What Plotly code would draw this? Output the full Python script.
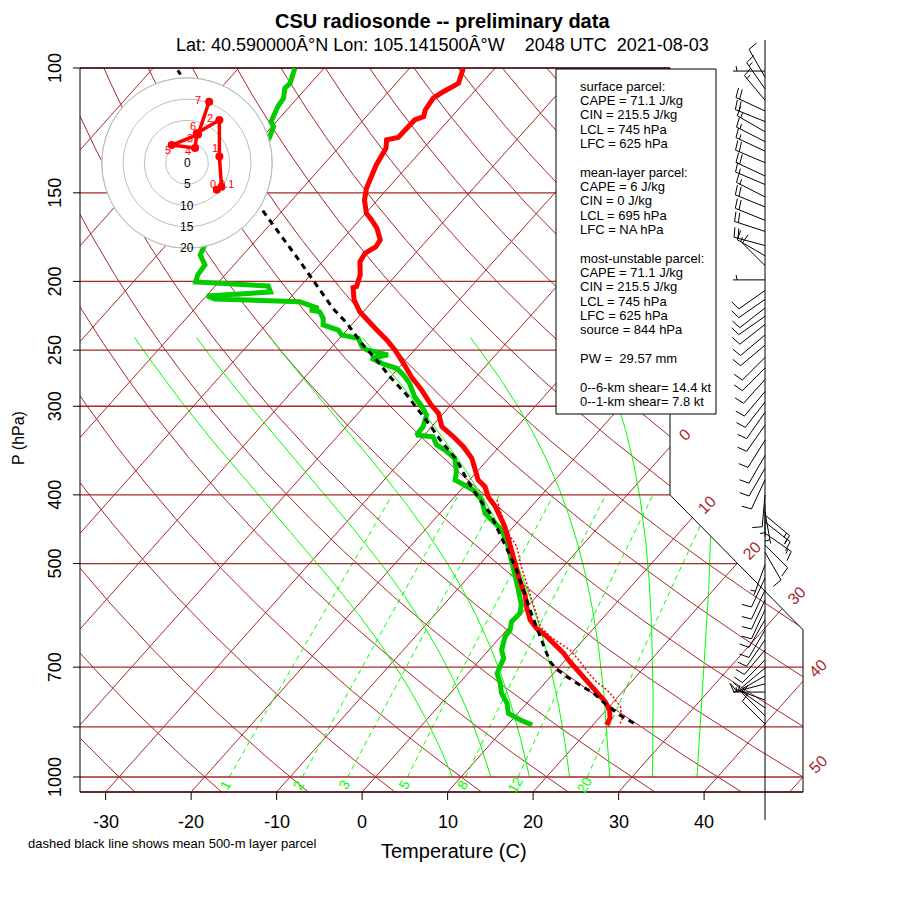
import numpy as np
import plotly.graph_objects as go

# ---- sounding: pressure (hPa), temperature (C) ----
pres_t = [100.1, 105.1, 108.0, 110.3, 114.6, 117.1, 118.4, 123.0, 125.3, 126.3,
          129.8, 137.0, 144.7, 147.8, 153.6, 160.3, 163.8, 168.3, 174.8, 178.7,
          182.5, 187.6, 195.8, 203.4, 204.1, 212.4, 220.7, 226.7, 234.2, 241.9,
          249.9, 262.4, 272.5, 284.6, 298.8, 306.9, 320.6, 331.2, 342.1, 355.2,
          371.0, 381.1, 389.5, 402.3, 415.6, 431.6, 443.6, 460.6, 481.1, 499.5,
          527.5, 553.8, 578.2, 600.5, 617.0, 634.0, 651.4, 669.2, 687.7, 706.5,
          725.8, 745.9, 766.3, 783.1, 804.5, 826.5, 844.7]
temp = [-63.7, -62.7, -63.6, -64.1, -63.8, -63.3, -64.0, -64.1, -64.1, -65.2,
        -64.4, -63.8, -62.8, -62.5, -61.5, -59.9, -58.6, -57.1, -55.5, -55.3,
        -55.9, -55.6, -54.2, -53.4, -53.7, -52.3, -50.4, -48.7, -46.5, -44.3,
        -42.3, -39.6, -37.6, -35.0, -32.3, -30.6, -28.8, -26.4, -24.2, -22.0,
        -20.2, -19.0, -17.5, -16.1, -14.2, -12.4, -11.0, -9.4, -7.6, -6.0,
        -3.7, -1.5, 0.1, 1.7, 3.3, 5.4, 7.2, 9.1, 10.7, 12.4,
        14.2, 15.9, 17.5, 19.0, 20.4, 21.3, 21.6]

pres_td = [100.1, 102.9, 105.1, 106.8, 110.3, 113.4, 115.8, 119.1, 121.0, 125.0,
           141.6, 159.6, 177.7, 183.5, 189.6, 195.8, 200.4, 201.7, 203.0, 207.0,
           209.7, 211.8, 213.6, 218.3, 219.5, 220.7, 225.4, 230.4, 234.2, 238.0,
           240.6, 247.2, 249.9, 253.9, 256.7, 260.9, 265.2, 271.0, 278.5, 290.9,
           300.4, 308.7, 320.6, 329.4, 331.2, 340.2, 345.8, 355.2, 371.0, 381.1,
           387.4, 393.8, 406.7, 424.8, 434.2, 448.5, 473.4, 496.9, 521.9, 544.9,
           572.0, 587.6, 603.9, 620.4, 634.0, 662.1, 680.1, 714.1, 737.6, 762.1,
           787.4, 813.2, 831.1, 844.7]
dewpt = [-83.4, -82.9, -82.4, -82.5, -81.6, -81.4, -81.0, -80.6, -79.8, -79.2,
         -77.5, -76.6, -75.5, -75.0, -73.4, -73.2, -72.7, -68.5, -63.8, -62.9,
         -69.9, -68.7, -58.5, -55.6, -56.4, -55.1, -54.0, -53.3, -51.0, -50.1,
         -47.8, -46.5, -45.6, -42.6, -44.2, -42.5, -40.2, -38.7, -37.1, -35.1,
         -33.2, -31.8, -31.0, -30.9, -28.8, -27.5, -26.0, -24.0, -22.4, -21.7,
         -20.2, -18.5, -16.5, -14.7, -13.2, -11.0, -8.5, -6.5, -4.6, -2.8,
         -0.9, -0.2, -0.3, 0.4, 0.5, 1.5, 2.6, 3.4, 4.8, 6.0,
         7.7, 8.9, 11.0, 12.9]

# thin dotted red line (virtual temperature)
pres_tv = [406.7, 420.2, 453.2, 473.4, 505.1, 544.9, 575.2, 613.8, 634.0,
           662.1, 687.7, 714.1, 733.8, 754.0, 770.5, 795.9, 831.1, 840.0]
tvirt = [-14.7, -13.3, -9.9, -7.5, -4.9, -1.6, 0.7, 3.6, 5.8,
         9.5, 11.9, 14.1, 15.9, 18.0, 19.4, 21.3, 22.9, 23.0]

# mean 500-m layer parcel (black dashed)
pres_pcl = [840.0, 817.7, 791.4, 762.1, 741.7, 722.0, 702.6, 687.7, 662.1, 634.0,
            581.4, 544.9, 510.6, 481.1, 453.2, 424.8, 406.7, 381.1, 357.1, 334.7,
            317.1, 303.6, 289.3, 272.5, 258.2, 244.5, 229.1, 218.3, 205.7, 187.6,
            176.7, 165.6, 159.5, 126.3, 100.7]
t_pcl = [24.6, 22.1, 19.5, 16.8, 14.3, 11.9, 9.7, 8.4, 6.6, 4.6,
         0.65, -2.2, -5.1, -8.0, -10.9, -14.1, -16.7, -20.3, -23.6, -27.6,
         -30.7, -33.3, -36.2, -40.1, -43.4, -46.9, -50.7, -53.9, -57.3, -62.6,
         -66.1, -69.9, -72.1, -84.7, -96.9]

# winds: pressure (hPa), direction (deg), speed (kt)
wind_p = [101, 103, 107, 111, 115, 119, 123, 127, 131, 136, 142, 146, 152, 157, 164, 170, 178, 184, 190, 199,
          206, 212, 218, 224, 230, 238, 246, 256, 265, 275, 286, 296, 306, 319, 335, 352, 367, 381,
          400, 413, 423, 427, 437, 453, 471, 482,
          502, 524, 545, 563, 581, 600, 620, 641, 662, 684, 702, 720, 739, 759, 779, 799, 820, 842]
wind_dir = [270, 330, 325, 320, 295, 292, 300, 297, 295, 293, 295, 293, 297, 292, 292, 288, 285, 300, 315, 270,
            235, 235, 232, 235, 232, 230, 230, 225, 225, 222, 220, 218, 215, 215, 212, 210, 210, 205,
            185, 180, 170, 130, 128, 125, 135, 150,
            200, 205, 205, 205, 205, 210, 210, 215, 220, 225, 230, 240, 255, 270, 290, 305, 315, 315]
wind_spd = [5, 10, 15, 15, 20, 20, 15, 15, 15, 20, 20, 15, 15, 20, 20, 20, 20, 15, 10, 5,
            10, 10, 10, 10, 10, 10, 10, 10, 10, 10, 10, 10, 10, 10, 10, 10, 10, 10,
            10, 5, 5, 15, 15, 15, 10, 10,
            5, 10, 10, 10, 10, 10, 10, 10, 10, 10, 10, 10, 10, 5, 5, 5, 10, 10]

# hodograph (u, v in kt) and its height labels (km)
hodo_u = [7.0, 8.1, 7.6, 7.6, 2.3, 1.9, -3.6, 2.6, 5.2]
hodo_v = [-6.3, -5.6, 1.5, 10.1, 7.0, 3.5, 4.2, 6.7, 14.4]
hodo_lab = ["0", "0.1", "1", "2", "3", "4", "5", "6", "7"]
hodo_lab_u = [6.1, 9.2, 6.6, 5.4, 0.8, 0.3, -4.5, 1.5, 2.5]
hodo_lab_v = [-4.9, -4.9, 3.5, 10.6, 5.8, 2.9, 3.1, 8.6, 14.8]
hodo_rings = [5, 10, 15, 20]

# diagram furniture
isobars = [1050, 1000, 850, 700, 500, 400, 300, 250, 200, 150, 100]
ytick_p = [1000, 850, 700, 500, 400, 300, 250, 200, 150, 100]
ytick_lab = ["1000", "", "700", "500", "400", "300", "250", "200", "150", "100"]
xtick_t = [-30, -20, -10, 0, 10, 20, 30, 40]
isotherms = list(range(-110, 60, 10))
iso_lab_t = [0, 10, 20, 30, 40, 50]
thetas = list(range(-40, 210, 10))
mixrat = [20, 12, 8, 5, 3, 2, 1]
moist_t0 = [9.0, 13.5, 18.0, 22.7, 27.4, 32.4, 37.6]

box_lines = ["surface parcel:", "CAPE = 71.1 J/kg", "CIN = 215.5 J/kg", "LCL = 745 hPa", "LFC = 625 hPa", "",
             "mean-layer parcel:", "CAPE = 6 J/kg", "CIN = 0 J/kg", "LCL = 695 hPa", "LFC = NA hPa", "",
             "most-unstable parcel:", "CAPE = 71.1 J/kg", "CIN = 215.5 J/kg", "LCL = 745 hPa", "LFC = 625 hPa",
             "source = 844 hPa", "", "PW =\u00a0 29.57 mm", "", "0--6-km shear= 14.4 kt", "0--1-km shear= 7.8 kt"]

BROWN = "#A52A2A"
GREEN = "#00FF00"
DGREEN = "#00CC00"
FONT = "Liberation Sans, Arial, sans-serif"
OFF = 8   # the page draws the figure 8 px in from its top-left corner


def skewty(p):
    return 132.182 - 44.061 * np.log10(p)


def skewtx(t, y):
    return 0.54 * np.asarray(t, float) + 0.90692 * np.asarray(y, float)


def tmr(w, p):
    x = np.log10(w * p / (622.0 + w))
    tk = 10 ** (0.0498646455 * x + 2.4082965) - 7.07475 + 38.9114 * (10 ** (0.0915 * x) - 1.2035) ** 2
    return tk - 273.15


def lapse(T, p, lat=0.95):
    es = 6.112 * np.exp(17.67 * (T - 273.15) / (T - 29.65))
    rs = 0.622 * es / (p - es)
    L = 2.501e6 * lat
    return (287.04 * T + L * rs) / (p * (1004.0 + L * L * rs * 0.622 / (287.04 * T * T)))


def moist_line(t0):
    p = np.arange(1000.0, 239.0, -2.0)
    T = np.empty_like(p)
    T[0] = t0 + 273.15
    for i in range(1, len(p)):
        dp = p[i] - p[i - 1]
        k1 = lapse(T[i - 1], p[i - 1])
        k2 = lapse(T[i - 1] + k1 * dp, p[i])
        T[i] = T[i - 1] + 0.5 * (k1 + k2) * dp
    return p, T - 273.15


# frame of the diagram in skew-T units
YBOT, YTOP = skewty(1050), skewty(100)
XMIN, XMAX = float(skewtx(-33, YBOT)), float(skewtx(50, skewty(1000)))
XR = 18.6
Y400, Y620 = skewty(400), skewty(620)

# frame sits at 80..803 px across and 68..792 px down on the page
SX = (803 - 80) / (XMAX - XMIN)
SY = (792 - 68) / (YTOP - YBOT)
X_LO = XMIN - (80 - OFF) / SX
X_HI = X_LO + 900 / SX
Y_HI = YTOP + (68 - OFF) / SY
Y_LO = Y_HI - 900 / SY


def px2x(px):
    return X_LO + (px - OFF) / SX


def px2y(py):
    return Y_HI - (py - OFF) / SY


def xp(px):
    return (px - OFF) / 900


def yp(py):
    return 1 - (py - OFF) / 900


def right_edge(y):
    return np.interp(y, [Y620, Y400], [XMAX, XR])


def clipped(x, y):
    x = np.asarray(x, float)
    y = np.asarray(y, float)
    ok = (x >= XMIN - 1e-6) & (x <= right_edge(y) + 1e-6) & (y >= YBOT - 1e-6) & (y <= YTOP + 1e-6)
    xs = [float(a) if k else None for a, k in zip(x, ok)]
    ys = [float(b) if k else None for b, k in zip(y, ok)]
    return xs + [None], ys + [None]


def joined(pieces):
    xs, ys = [], []
    for a, b in pieces:
        xs += a
        ys += b
    return xs, ys


fig = go.Figure()
yg = np.linspace(YBOT, YTOP, 1500)
pg = 10 ** ((132.182 - yg) / 44.061)

# dry adiabats
xs, ys = joined([clipped(skewtx((th + 273.15) * (pg / 1000) ** 0.2857 - 273.15, yg), yg) for th in thetas])
fig.add_trace(go.Scatter(x=xs, y=ys, mode="lines", line=dict(color=BROWN, width=1)))

# isotherms
xs, ys = joined([clipped(skewtx(t, yg), yg) for t in isotherms])
fig.add_trace(go.Scatter(x=xs, y=ys, mode="lines", line=dict(color=BROWN, width=1)))

# mixing ratio lines
pm = np.linspace(1000, 400, 400)
xs, ys = joined([clipped(skewtx(tmr(w, pm), skewty(pm)), skewty(pm)) for w in mixrat])
fig.add_trace(go.Scatter(x=xs, y=ys, mode="lines", line=dict(color=GREEN, width=1, dash="5px,4px")))

# saturated adiabats
pieces = []
for t0 in moist_t0:
    pp, tt = moist_line(t0)
    pieces.append(clipped(skewtx(tt, skewty(pp)), skewty(pp)))
xs, ys = joined(pieces)
fig.add_trace(go.Scatter(x=xs, y=ys, mode="lines", line=dict(color=GREEN, width=1)))

# isobars
xs, ys = [], []
for p in isobars:
    y = skewty(p)
    xs += [XMIN, float(right_edge(y)), None]
    ys += [y, y, None]
fig.add_trace(go.Scatter(x=xs, y=ys, mode="lines", line=dict(color=BROWN, width=1.3)))

# outline and axis ticks
fig.add_trace(go.Scatter(x=[XMIN, XMIN, XR, XR, XMAX, XMAX, XMIN],
                         y=[YBOT, YTOP, YTOP, Y400, Y620, YBOT, YBOT],
                         mode="lines", line=dict(color="black", width=1)))
xs, ys = [], []
for p in ytick_p:
    xs += [XMIN - 7 / SX, XMIN, None]
    ys += [skewty(p), skewty(p), None]
for t in xtick_t:
    x = float(skewtx(t, YBOT))
    xs += [x, x, None]
    ys += [YBOT, YBOT - 8 / SY, None]
fig.add_trace(go.Scatter(x=xs, y=ys, mode="lines", line=dict(color="black", width=1)))

# wind barbs
BARB_X = px2x(765)
STAFF, FULL, HALF, GAP = 32, 10, 5, 4
rot = np.radians(80)
xs, ys = [BARB_X, BARB_X, None], [px2y(40), px2y(820), None]
for p, d, s in zip(wind_p, wind_dir, wind_spd):
    x0, y0 = BARB_X, skewty(p)
    th = np.radians(d)
    ux, uy = np.sin(th), np.cos(th)
    fx = ux * np.cos(rot) + uy * np.sin(rot)
    fy = -ux * np.sin(rot) + uy * np.cos(rot)
    xs += [x0, x0 + STAFF * ux / SX, None]
    ys += [y0, y0 + STAFF * uy / SY, None]
    nfull, half = s // 10, (s % 10) >= 5
    flags = [FULL] * nfull + ([HALF] if half else [])
    for k, fl in enumerate(flags):
        dist = STAFF - k * GAP if nfull > 0 else STAFF - GAP
        bx0 = x0 + dist * ux / SX
        by0 = y0 + dist * uy / SY
        xs += [bx0, bx0 + fl * fx / SX, None]
        ys += [by0, by0 + fl * fy / SY, None]
fig.add_trace(go.Scatter(x=xs, y=ys, mode="lines", line=dict(color="black", width=1)))

# sounding curves
yv = skewty(np.array(pres_tv))
fig.add_trace(go.Scatter(x=skewtx(tvirt, yv), y=yv, mode="lines",
                         line=dict(color="red", width=1.5, dash="2px,2px")))
yd = skewty(np.array(pres_td))
fig.add_trace(go.Scatter(x=skewtx(dewpt, yd), y=yd, mode="lines", line=dict(color=DGREEN, width=5)))
yt = skewty(np.array(pres_t))
fig.add_trace(go.Scatter(x=skewtx(temp, yt), y=yt, mode="lines", line=dict(color="red", width=5)))
yq = skewty(np.array(pres_pcl))
fig.add_trace(go.Scatter(x=skewtx(t_pcl, yq), y=yq, mode="lines",
                         line=dict(color="black", width=3, dash="6px,5px")))

# hodograph inset
HCX, HCY, HK = px2x(187), px2y(163), 4.26


def hx(u):
    return HCX + np.asarray(u, float) * HK / SX


def hy(v):
    return HCY + np.asarray(v, float) * HK / SY


phi = np.linspace(0, 2 * np.pi, 241)
rmax = max(hodo_rings)
fig.add_trace(go.Scatter(x=hx(rmax * np.cos(phi)), y=hy(rmax * np.sin(phi)), mode="lines",
                         fill="toself", fillcolor="white", line=dict(color="#BEBEBE", width=1)))
xs, ys = [], []
for r in hodo_rings:
    xs += list(hx(r * np.cos(phi))) + [None]
    ys += list(hy(r * np.sin(phi))) + [None]
fig.add_trace(go.Scatter(x=xs, y=ys, mode="lines", line=dict(color="#BEBEBE", width=1)))
fig.add_trace(go.Scatter(x=hx(hodo_u), y=hy(hodo_v), mode="lines+markers",
                         line=dict(color="red", width=3.5), marker=dict(color="red", size=8)))

C = dict(xanchor="center", yanchor="middle", showarrow=False)
ann = []
for r in [0] + hodo_rings:
    ann.append(dict(x=float(hx(0)), y=float(hy(-r)), text=str(r),
                    font=dict(size=12, color="black"), **C))
for t, u, v in zip(hodo_lab, hodo_lab_u, hodo_lab_v):
    ann.append(dict(x=float(hx(u)), y=float(hy(v)), text=t, font=dict(size=11, color="red"),
                    borderpad=0, **C))

# pressure and temperature tick labels
for p, lab in zip(ytick_p, ytick_lab):
    if lab:
        ann.append(dict(x=XMIN, y=float(skewty(p)), xshift=-25, text=lab, textangle=-90,
                        font=dict(size=18, color="black"), **C))
for t in xtick_t:
    ann.append(dict(x=float(skewtx(t, YBOT)), y=YBOT, yshift=-30, text=str(t),
                    font=dict(size=18, color="black"), **C))

# isotherm labels where each isotherm leaves the diagram
for t in iso_lab_t:
    xi = skewtx(t, yg)
    k = np.nonzero(xi <= right_edge(yg) + 1e-6)[0][-1]
    ann.append(dict(x=float(xi[k]), y=float(yg[k]), xshift=15, yshift=13, text=str(t), textangle=-45,
                    font=dict(size=16, color=BROWN), **C))

# mixing ratio labels
for w in mixrat:
    yl = skewty(1025)
    ann.append(dict(x=float(skewtx(tmr(w, 1025), yl)), y=float(yl), text=str(w), textangle=-60,
                    font=dict(size=14, color=GREEN), **C))

# parcel text box
for i, line in enumerate(box_lines):
    if line:
        ann.append(dict(x=xp(578), y=yp(86 + i * 14.35), xref="paper", yref="paper",
                        xanchor="left", yanchor="middle", text=line, showarrow=False,
                        font=dict(size=13, color="black")))

# titles and axis titles
ann.append(dict(x=xp(442), y=yp(21), xref="paper", yref="paper",
                text="<b>CSU radiosonde -- preliminary data</b>", font=dict(size=20, color="black"), **C))
ann.append(dict(x=xp(442), y=yp(45), xref="paper", yref="paper",
                text="Lat: 40.590000Â°N Lon: 105.141500Â°W\u00a0\u00a0\u00a0 2048 UTC\u00a0 2021-08-03",
                font=dict(size=18, color="black"), **C))
ann.append(dict(x=xp(18), y=yp(438), xref="paper", yref="paper",
                text="P (hPa)", textangle=-90, font=dict(size=16, color="black"), **C))
ann.append(dict(x=xp(454), y=yp(851), xref="paper", yref="paper",
                text="Temperature (C)", font=dict(size=20, color="black"), **C))
ann.append(dict(x=xp(172), y=yp(843), xref="paper", yref="paper",
                text="dashed black line shows mean 500-m layer parcel", font=dict(size=13, color="black"), **C))

fig.update_layout(
    width=900, height=900,
    margin=dict(l=0, r=0, t=0, b=0, pad=0),
    paper_bgcolor="white", plot_bgcolor="white",
    showlegend=False, hovermode=False,
    font=dict(family=FONT),
    xaxis=dict(visible=False, range=[X_LO, X_HI], fixedrange=True),
    yaxis=dict(visible=False, range=[Y_LO, Y_HI], fixedrange=True),
    annotations=ann,
    shapes=[dict(type="rect", xref="paper", yref="paper", x0=xp(556), x1=xp(716),
                 y0=yp(414), y1=yp(69), fillcolor="white",
                 line=dict(color="black", width=1), layer="above")],
)

fig.write_html("out.html")
